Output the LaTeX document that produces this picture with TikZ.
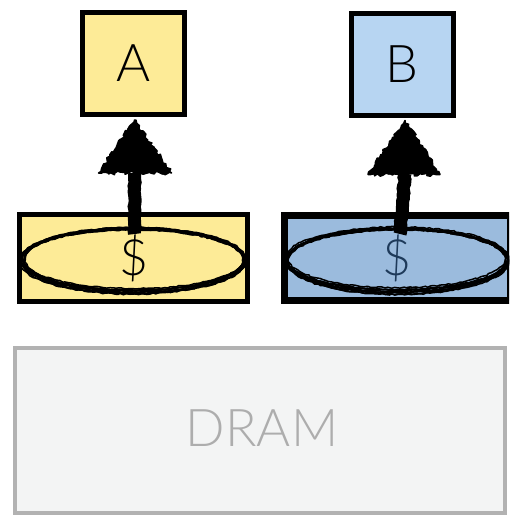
\documentclass[tikz,border=0pt]{standalone}
\usepackage{fontspec}
\setmainfont{Lato}[UprightFont={* Light}]
\usetikzlibrary{calc,decorations.pathmorphing}

\definecolor{ayellow}{HTML}{FDEB97}
\definecolor{bblue}{HTML}{B7D5F2}
\definecolor{cblue}{HTML}{9BBBDD}
\definecolor{dramfill}{HTML}{F3F4F4}
\definecolor{dramline}{HTML}{B2B2B2}
\definecolor{dramtext}{HTML}{ADADAD}
\definecolor{navy}{HTML}{1E3A5A}

\tikzset{
  core/.style={rectangle, draw=black, line width=5pt, inner sep=0pt,
    minimum width=102pt, minimum height=102pt,
    font=\fontsize{52}{60}\selectfont},
  cachebox/.style={rectangle, draw=black, inner sep=0pt,
    font=\fontsize{50}{60}\selectfont},
  dram/.style={rectangle, draw=dramline, fill=dramfill, line width=4pt,
    inner sep=0pt, text=dramtext, font=\fontsize{52}{60}\selectfont},
  rough/.style={decorate, decoration={random steps, segment length=3pt, amplitude=0.7pt}},
  shaft/.style={line width=13pt, draw=black, rough},
  arrowhead/.style={fill=black, draw=black, line width=1.5pt, line join=round,
    decorate, decoration={random steps, segment length=2.5pt, amplitude=1.8pt}},
}

% draw a hand-sketched ellipse made of several loose strokes
\newcommand{\sketchring}[3]{%
  \foreach \k in {1,...,10}{%
    \pgfmathsetmacro{\dy}{rand*0.8+\k*0.35}%
    \pgfmathsetmacro{\rx}{#2+rand*1.8}%
    \pgfmathsetmacro{\ry}{#3+\k*0.3+rand*0.8}%
    \draw[line width=1.5pt, rough, draw=black]
      ($(#1)+(rand*1.5,\dy)$) ellipse [x radius=\rx, y radius=\ry];
  }%
}

\begin{document}
\begin{tikzpicture}[x=1pt, y=-1pt]
  \useasboundingbox (0,0) rectangle (509,517);
  \clip (0,0) rectangle (509,517);
  \pgfmathsetseed{7}

  % cores
  \node[core, fill=ayellow] (A) at (133.5,63.5) {A};
  \node[core, fill=bblue]   (B) at (402,64) {B};

  % private caches
  \node[cachebox, fill=ayellow, line width=5pt,
        minimum width=228pt, minimum height=87pt] (cA) at (133.5,258) {};
  \node[cachebox, fill=cblue, line width=7pt,
        minimum width=226pt, minimum height=85pt] (cB) at (397,258) {};

  % sketched rings around the cached value
  \sketchring{cA.center}{111}{30}
  \sketchring{cB.center}{110}{30}

  \node[font=\fontsize{50}{60}\selectfont] (dA) at (cA.center) {\$};
  \node[font=\fontsize{50}{60}\selectfont, text=navy] (dB) at (cB.center) {\$};

  % hand-drawn arrows from each cache up to its core
  \draw[shaft] ($(cA.north)+(1,22)$) -- ($(A.south)+(1,56)$);
  \filldraw[arrowhead] ($(A.south)+(1,3)$) -- ($(A.south)+(-35,56)$)
     -- ($(A.south)+(38,56)$) -- cycle;

  \draw[shaft] ($(cB.north)+(3,22)$) -- ($(B.south)+(3,56)$);
  \filldraw[arrowhead] ($(B.south)+(3,3)$) -- ($(B.south)+(-34,57)$)
     -- ($(B.south)+(38,57)$) -- cycle;

  % shared memory
  \node[dram, minimum width=490pt, minimum height=165pt] (M) at (260,430.5) {};
  \node[text=dramtext, font=\fontsize{52}{60}\selectfont] (Ml) at (262,428) {DRAM};
\end{tikzpicture}
\end{document}
